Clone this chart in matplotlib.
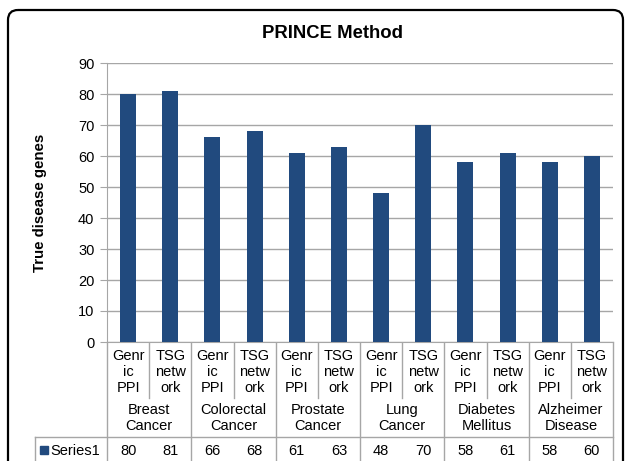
import matplotlib.pyplot as plt
from matplotlib.patches import FancyBboxPatch, Rectangle

plt.rcParams['font.family'] = ['Liberation Sans', 'DejaVu Sans']

methods = ["Genr\nic\nPPI", "TSG\nnetw\nork"]
diseases = ["Breast\nCancer", "Colorectal\nCancer", "Prostate\nCancer",
            "Lung\nCancer", "Diabetes\nMellitus", "Alzheimer\nDisease"]
series_name = "Series1"
true_genes = [80, 81, 66, 68, 61, 63, 48, 70, 58, 61, 58, 60]
yticks = list(range(0, 91, 10))

bar_color = "#214A7E"
grid_color = "#A6A6A6"
W, H = 627, 461

fig = plt.figure(figsize=(W / 100, H / 100), dpi=100)

# overlay in pixel units for the frame, title and data table
over = fig.add_axes([0, 0, 1, 1])
over.set_xlim(0, W)
over.set_ylim(H, 0)
over.axis("off")
over.add_patch(FancyBboxPatch((8, 10), 615, 480, boxstyle="round,pad=0,rounding_size=10",
                              fill=False, ec="black", lw=1.6))
over.text(333, 34, "PRINCE Method", ha="center", va="center", fontsize=13.3, fontweight="bold")
over.text(40, 203, "True disease genes", ha="center", va="center", rotation=90,
          fontsize=10.8, fontweight="bold")

# plot area
left, right, top, bottom = 107, 613, 63, 342
ax = fig.add_axes([left / W, (H - bottom) / H, (right - left) / W, (bottom - top) / H])
n = len(true_genes)
ax.bar(range(n), true_genes, width=0.38, color=bar_color, zorder=3)
ax.set_xlim(-0.5, n - 0.5)
ax.set_ylim(0, 90)
ax.set_yticks(yticks)
ax.tick_params(axis="y", labelsize=10.5, length=5, color=grid_color, pad=4)
ax.tick_params(axis="x", bottom=False, labelbottom=False)
ax.grid(axis="y", color=grid_color, lw=1)
for s in ["top", "right"]:
    ax.spines[s].set_visible(False)
for s in ["left", "bottom"]:
    ax.spines[s].set_color(grid_color)

# data table under the axis
slot = (right - left) / n
row1_end, row2_end, row3_end = 398, 437, 470
lc = dict(color=grid_color, lw=1)
for i in range(n + 1):
    x = left + i * slot
    end = row3_end if i % 2 == 0 else row1_end
    over.plot([x, x], [bottom, end], **lc)
over.plot([35, right], [row2_end, row2_end], **lc)
over.plot([35, 35], [row2_end, row3_end], **lc)

for i, v in enumerate(true_genes):
    cx = left + (i + 0.5) * slot
    over.text(cx, 372, methods[i % 2], ha="center", va="center", fontsize=10.5,
              linespacing=1.2)
    over.text(cx, 451, str(v), ha="center", va="center", fontsize=10.5)
for g, name in enumerate(diseases):
    cx = left + (g + 1) * slot * 2 - slot
    over.text(cx, 418, name, ha="center", va="center", fontsize=10.5, linespacing=1.2)

over.add_patch(Rectangle((40, 446), 8, 8, color=bar_color))
over.text(50, 451, series_name, ha="left", va="center", fontsize=10.5)

fig.savefig("out.png", dpi=100)
